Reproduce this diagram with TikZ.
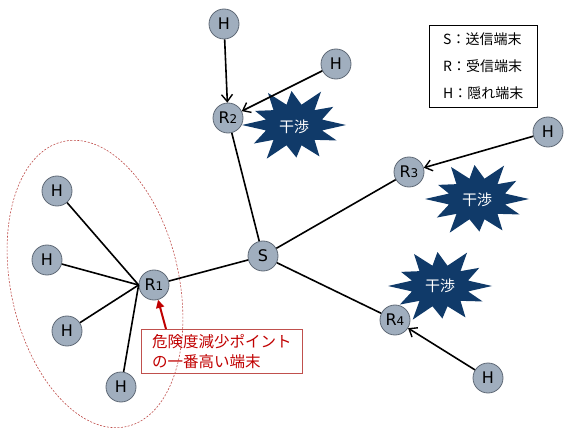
\documentclass[tikz,border=0pt]{standalone}
\usepackage{fontspec}
\setmainfont{DejaVu Sans}
\newfontfamily\jp{Noto Sans CJK JP}
\usetikzlibrary{shapes.geometric,arrows.meta}
\definecolor{nodefill}{RGB}{160,174,190}
\definecolor{nodeline}{RGB}{95,105,118}
\definecolor{navy}{RGB}{16,58,105}
\definecolor{darkred}{RGB}{192,0,0}
\definecolor{boxred}{RGB}{192,80,77}
\tikzset{
  term/.style={circle,fill=nodefill,draw=nodeline,line width=0.8pt,minimum size=30pt,inner sep=0pt,font=\fontsize{16}{16}\selectfont},
  bursttext/.style={text=white,inner sep=0pt,font=\jp\fontsize{15}{15}\selectfont},
  link/.style={line width=1.6pt,black},
  arr/.style={line width=1.6pt,black,-{Straight Barb[length=7pt,width=11pt,line width=1.4pt]}},
}
\newcommand{\sub}[1]{{\fontsize{12}{12}\selectfont #1}}
\newcommand{\zap}[2]{%
  \fill[navy,shift={(#1,#2)}] (0:52pt and 36pt)
   \foreach \k/\f in {1/0.9,2/1.04,3/0.92,4/1.0,5/0.84,6/1.0,7/0.92,8/1.05,9/0.88,10/0.98,11/0.92}
     { -- ({\k*30-15}:29pt and 21pt) -- ({\k*30+3*mod(\k,2)}:{\f*52pt} and {\f*37pt}) }
   -- (345:29pt and 21pt) -- cycle;}
\begin{document}
\begin{tikzpicture}[x=1pt,y=-1pt]
\useasboundingbox (0,0) rectangle (566,428);
% dashed ellipse
\draw[boxred,dashed,line width=0.6pt,dash pattern=on 2pt off 1.5pt] (95,284) ellipse [x radius=84pt,y radius=146pt,rotate=12.5];
% starbursts
\zap{294}{125}
\zap{477}{199}
\zap{440}{286}
\node[bursttext] (b1) at (294,127) {干渉};
\node[bursttext] (b2) at (477,200) {干渉};
\node[bursttext] (b3) at (440,286) {干渉};
% nodes
\node[term] (h1) at (224,24) {H};
\node[term] (h2) at (336,64) {H};
\node[term] (r2) at (228,118) {R\sub{2}};
\node[term] (h3) at (548,132) {H};
\node[term] (r3) at (409,172) {R\sub{3}};
\node[term] (s) at (263,256) {S};
\node[term] (r4) at (395,320) {R\sub{4}};
\node[term] (h4) at (488,378) {H};
\node[term] (r1) at (154,285) {R\sub{1}};
\node[term] (h5) at (57,191) {H};
\node[term] (h6) at (47,260) {H};
\node[term] (h7) at (67,331) {H};
\node[term] (h8) at (121,387) {H};
% legend
\node[draw=black,line width=0.6pt,align=left,inner xsep=7pt,inner ysep=4pt,font=\jp\fontsize{14}{27}\selectfont,anchor=north west,minimum width=108pt,minimum height=82pt] (leg) at (429,25) {S：送信端末\\R：受信端末\\H：隠れ端末};
% callout
\node[draw=boxred,line width=0.6pt,align=left,text=darkred,inner xsep=6pt,inner ysep=3pt,font=\jp\fontsize{15.5}{20}\selectfont,anchor=north west,minimum width=161pt,minimum height=44pt] (call) at (141,329) {危険度減少ポイント\\の一番高い端末};
% links
\draw[link] (r2) -- (s);
\draw[link] (s) -- (r3);
\draw[link] (s) -- (r4);
\draw[link] (r1) -- (s);
\draw[link] (h5) -- (r1.west);
\draw[link] (h6) -- (r1.west);
\draw[link] (h7) -- (r1.west);
\draw[link] (h8) -- (r1.west);
% arrows
\draw[arr] (h1) -- (r2);
\draw[arr] (h2) -- (r2);
\draw[arr] (h3) -- (r3);
\draw[arr] (h4) -- (r4);
\coordinate (cs) at (166,329);
\draw[darkred,line width=2pt,-{Triangle[length=8pt,width=8pt]}] (cs) -- (r1);
\end{tikzpicture}
\end{document}
